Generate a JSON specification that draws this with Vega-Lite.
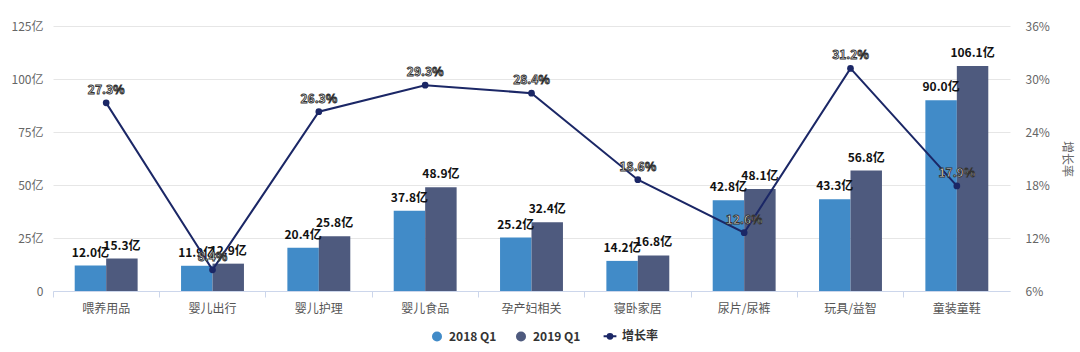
{
  "$schema": "https://vega.github.io/schema/vega-lite/v6.json",
  "autosize": {"type": "none"},
  "padding": {"left": 53, "top": 26, "right": 70, "bottom": 61},
  "width": 957,
  "height": 265,
  "background": "#ffffff",
  "config": {
    "font": "Noto Sans CJK SC",
    "view": {"stroke": null}
  },
  "datasets": {
    "sales": [
      {"cat": "喂养用品", "series": "2018 Q1", "value": 12.0},
      {"cat": "喂养用品", "series": "2019 Q1", "value": 15.3},
      {"cat": "婴儿出行", "series": "2018 Q1", "value": 11.9},
      {"cat": "婴儿出行", "series": "2019 Q1", "value": 12.9},
      {"cat": "婴儿护理", "series": "2018 Q1", "value": 20.4},
      {"cat": "婴儿护理", "series": "2019 Q1", "value": 25.8},
      {"cat": "婴儿食品", "series": "2018 Q1", "value": 37.8},
      {"cat": "婴儿食品", "series": "2019 Q1", "value": 48.9},
      {"cat": "孕产妇相关", "series": "2018 Q1", "value": 25.2},
      {"cat": "孕产妇相关", "series": "2019 Q1", "value": 32.4},
      {"cat": "寝卧家居", "series": "2018 Q1", "value": 14.2},
      {"cat": "寝卧家居", "series": "2019 Q1", "value": 16.8},
      {"cat": "尿片/尿裤", "series": "2018 Q1", "value": 42.8},
      {"cat": "尿片/尿裤", "series": "2019 Q1", "value": 48.1},
      {"cat": "玩具/益智", "series": "2018 Q1", "value": 43.3},
      {"cat": "玩具/益智", "series": "2019 Q1", "value": 56.8},
      {"cat": "童装童鞋", "series": "2018 Q1", "value": 90.0},
      {"cat": "童装童鞋", "series": "2019 Q1", "value": 106.1}
    ],
    "growth": [
      {"cat": "喂养用品", "rate": 27.3},
      {"cat": "婴儿出行", "rate": 8.4},
      {"cat": "婴儿护理", "rate": 26.3},
      {"cat": "婴儿食品", "rate": 29.3},
      {"cat": "孕产妇相关", "rate": 28.4},
      {"cat": "寝卧家居", "rate": 18.6},
      {"cat": "尿片/尿裤", "rate": 12.6},
      {"cat": "玩具/益智", "rate": 31.2},
      {"cat": "童装童鞋", "rate": 17.9}
    ]
  },
  "encoding": {
    "x": {
      "field": "cat",
      "type": "nominal",
      "sort": null,
      "scale": {"paddingInner": 0, "paddingOuter": 0},
      "axis": {
        "title": null,
        "labelAngle": 0,
        "labelColor": "#555555",
        "labelFontSize": 12,
        "labelPadding": 6,
        "domainColor": "#ccd6eb",
        "tickColor": "#ccd6eb",
        "tickSize": 6,
        "bandPosition": 0
      }
    }
  },
  "layer": [
    {
      "data": {"name": "sales"},
      "encoding": {
        "xOffset": {
          "field": "series",
          "type": "nominal",
          "scale": {"paddingInner": 0, "paddingOuter": 0.69}
        },
        "y": {
          "field": "value",
          "type": "quantitative",
          "scale": {"domain": [0, 125], "nice": false},
          "axis": {
            "title": null,
            "values": [0, 25, 50, 75, 100, 125],
            "labelExpr": "datum.value === 0 ? '0' : datum.value + '亿'",
            "labelColor": "#666666",
            "labelFontSize": 12,
            "labelPadding": 10,
            "domain": false,
            "ticks": false,
            "gridColor": "#e6e6e6",
            "gridWidth": 1
          }
        }
      },
      "layer": [
        {
          "mark": {"type": "bar"},
          "encoding": {
            "color": {
              "field": "series",
              "type": "nominal",
              "scale": {
                "domain": ["2018 Q1", "2019 Q1", "增长率"],
                "range": ["#418bc8", "#4e5a7e", "#1b2766"]
              },
              "legend": {
                "title": null,
                "orient": "none",
                "direction": "horizontal",
                "legendX": 378,
                "legendY": 304,
                "symbolType": "circle",
                "symbolSize": 100,
                "symbolStrokeWidth": 0,
                "labelFontSize": 12,
                "labelFontWeight": "bold",
                "labelColor": "#333333",
                "labelOffset": 6,
                "columnPadding": 18,
                "encode": {
                  "symbols": {
                    "update": {
                      "shape": {"signal": "datum.label === '增长率' ? 'M-0.8,0H0.8M-0.3,0A0.3,0.3 0 1,1 0.3,0A0.3,0.3 0 1,1 -0.3,0' : 'circle'"},
                      "fill": {"scale": "color", "field": "value"},
                      "stroke": {"scale": "color", "field": "value"},
                      "strokeWidth": {"signal": "datum.label === '增长率' ? 2 : 0"},
                      "size": {"signal": "datum.label === '增长率' ? 256 : 100"}
                    }
                  }
                }
              }
            }
          }
        },
        {
          "transform": [{"calculate": "format(datum.value, '.1f') + '亿'", "as": "label"}],
          "mark": {"type": "text", "fontWeight": "bold", "fontSize": 12, "color": "#111111", "dy": -9, "baseline": "alphabetic"},
          "encoding": {
            "text": {"field": "label", "type": "nominal"},
            "detail": {"field": "series"}
          }
        }
      ]
    },
    {
      "data": {"name": "growth"},
      "encoding": {
        "y": {
          "field": "rate",
          "type": "quantitative",
          "scale": {"domain": [6, 36], "nice": false, "zero": false},
          "axis": {
            "orient": "right",
            "title": "增长率",
            "titleAngle": 90,
            "titleColor": "#666666",
            "titleFontSize": 12,
            "titleFontWeight": "normal",
            "titlePadding": 10,
            "values": [6, 12, 18, 24, 30, 36],
            "labelExpr": "datum.value + '%'",
            "labelColor": "#666666",
            "labelFontSize": 12,
            "labelPadding": 15,
            "domain": false,
            "ticks": false,
            "grid": false
          }
        }
      },
      "layer": [
        {
          "mark": {"type": "line", "color": "#1b2766", "strokeWidth": 2},
          "encoding": {"color": {"datum": "增长率"}}
        },
        {
          "mark": {"type": "point", "filled": true, "size": 45, "color": "#1b2766", "opacity": 1},
          "encoding": {"color": {"datum": "增长率"}}
        },
        {
          "transform": [{"calculate": "format(datum.rate, '.1f') + '%'", "as": "label"}],
          "mark": {"type": "text", "fontWeight": "bold", "fontSize": 12, "fill": "#ffffff", "stroke": "#333333", "strokeWidth": 0.9, "dy": -9, "baseline": "alphabetic"},
          "encoding": {
            "text": {"field": "label", "type": "nominal"}
          }
        }
      ]
    }
  ],
  "resolve": {"scale": {"y": "independent"}}
}
